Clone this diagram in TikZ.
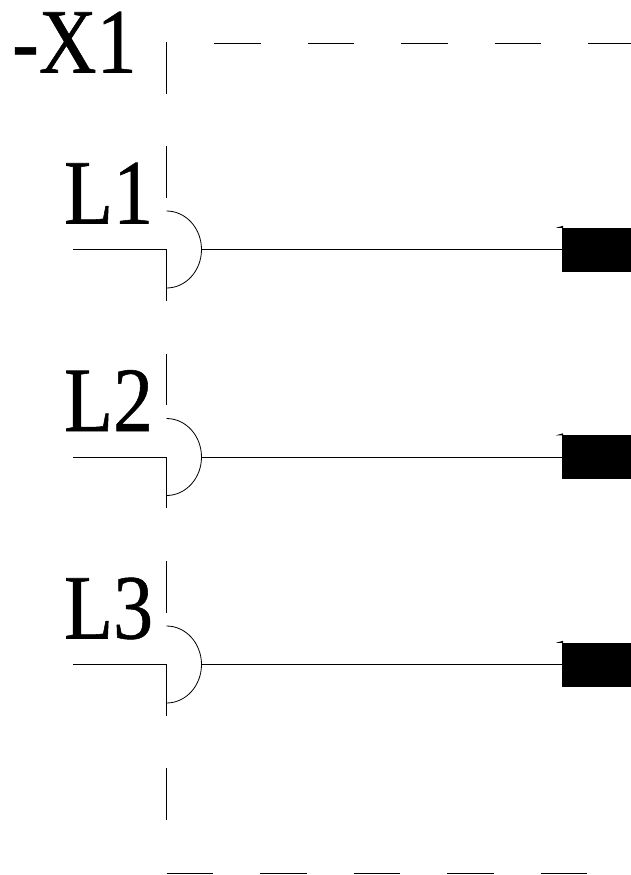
\documentclass[tikz,border=0pt]{standalone}
\usepackage{fontspec}
\setmainfont{Liberation Serif}
\newfontfamily\labelfont[FakeStretch=0.87,FakeBold=0.6]{Liberation Serif}
\tikzset{
  label/.style={inner sep=0pt, anchor=base west, font=\labelfont\fontsize{92}{92}\selectfont},
  wire/.style={line width=0.8pt},
  dashline/.style={line width=0.8pt, dash pattern=on 46.5pt off 47pt},
  contact/.style={draw, fill=black, inner sep=0pt, minimum width=69pt, minimum height=43pt}
}
\begin{document}
\begin{tikzpicture}[x=1pt, y=-1pt]
  \useasboundingbox (0,0) rectangle (631,875);
  \node[label] (X) at (12,72.5) {-X1};
  % frame
  \coordinate (TL) at (214,43);
  \coordinate (TR) at (631,43);
  \coordinate (BL) at (166.5,873);
  \coordinate (BR) at (587,873);
  \draw[dashline] (TL) -- (TR);
  \draw[dashline] (BL) -- (BR);
  \coordinate (VA) at (166.5,42);
  \coordinate (VB) at (166.5,94);
  \coordinate (VC) at (166.5,768);
  \coordinate (VD) at (166.5,820);
  \draw[wire] (VA) -- (VB);
  \draw[wire] (VC) -- (VD);
  % terminals
  \foreach \n/\ypos in {1/249.5, 2/457, 3/664.5} {
    \coordinate (S\n) at (166.5,\ypos);
    \coordinate (U\n) at (166.5,\ypos-103.5);
    \coordinate (M\n) at (166.5,\ypos-52);
    \coordinate (D\n) at (166.5,\ypos+51);
    \coordinate (W\n) at (73,\ypos);
    \coordinate (Q\n) at (201.5,\ypos);
    \node[label] (L\n) at (64,\ypos-26) {L\n};
    \node[contact, anchor=west] (R\n) at (562,\ypos) {};
    \draw[wire] (U\n) -- (M\n);
    \draw[wire] (W\n) -- (S\n) -- (D\n);
    \draw[wire] (166.5,\ypos-38.5) arc[start angle=-90, end angle=90, x radius=35, y radius=38.5];
    \draw[wire] (Q\n) -- (R\n);
    \fill (R\n.north west) -- ++(-6,0) -- ++(7,-2) -- ++(0,6) -- cycle;
  }
\end{tikzpicture}
\end{document}
